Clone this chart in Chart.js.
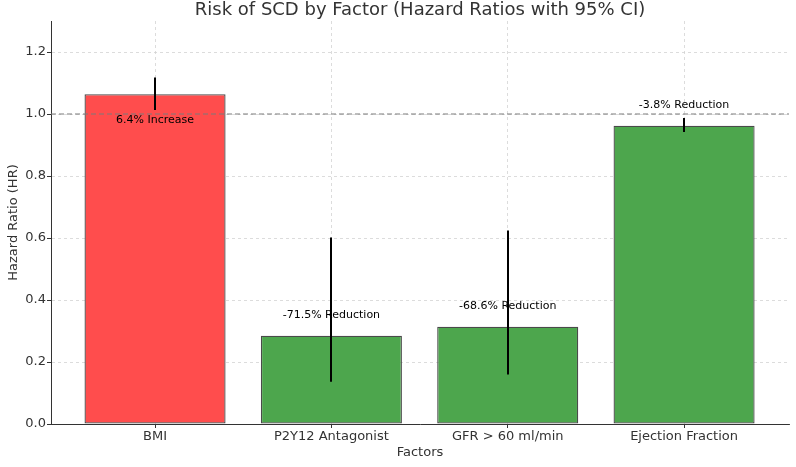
<!DOCTYPE html>
<html lang="en">
<head>
<meta charset="UTF-8" />
<title>Risk of SCD by Factor</title>
<script src="https://cdn.jsdelivr.net/npm/chart.js@4.4.1/dist/chart.umd.min.js"></script>
<style>
  html, body { margin: 0; padding: 0; background: #fff; }
  #wrap { width: 796px; height: 467px; }
</style>
</head>
<body>
<div id="wrap"><canvas id="chart" width="796" height="467"></canvas></div>
<script>
  // values
  const factors = ["BMI", "P2Y12 Antagonist", "GFR > 60 ml/min", "Ejection Fraction"];
  const hazardRatios = [1.064, 0.285, 0.314, 0.962];
  const ciLower = [1.013, 0.136, 0.16, 0.942];
  const ciUpper = [1.118, 0.602, 0.624, 0.987];
  const changeLabels = ["6.4% Increase", "-71.5% Reduction", "-68.6% Reduction", "-3.8% Reduction"];
  const yTicks = [0, 0.2, 0.4, 0.6, 0.8, 1.0, 1.2];
  const referenceHR = 1.0;

  const FONT = "'DejaVu Sans', sans-serif";
  const barColors = hazardRatios.map((v) => (v > referenceHR ? "#ff4d4d" : "#4da64d"));

  // title, reference line, labels and CI whiskers drawn on top of bars
  const extras = {
    id: "extras",
    afterDatasetsDraw(chart) {
      const { ctx, chartArea } = chart;
      const xs = chart.scales.x;
      const ys = chart.scales.y;

      // dashed line at HR = 1
      const yRef = ys.getPixelForValue(referenceHR);
      ctx.save();
      ctx.strokeStyle = "#7a7a7a";
      ctx.lineWidth = 1;
      ctx.setLineDash([5, 3]);
      ctx.beginPath();
      ctx.moveTo(chartArea.left, yRef);
      ctx.lineTo(chartArea.right, yRef);
      ctx.stroke();
      ctx.restore();

      // percent change labels
      ctx.save();
      ctx.font = "11px " + FONT;
      ctx.fillStyle = "#000";
      ctx.textAlign = "center";
      ctx.textBaseline = "bottom";
      hazardRatios.forEach((v, i) => {
        const at = v > referenceHR ? v - 0.1 : v + 0.05;
        ctx.fillText(changeLabels[i], xs.getPixelForValue(i), ys.getPixelForValue(at));
      });
      ctx.restore();

      // 95% CI whiskers
      ctx.save();
      ctx.strokeStyle = "#000";
      ctx.lineWidth = 2;
      hazardRatios.forEach((v, i) => {
        const x = Math.round(xs.getPixelForValue(i));
        ctx.beginPath();
        ctx.moveTo(x, ys.getPixelForValue(ciLower[i]));
        ctx.lineTo(x, ys.getPixelForValue(ciUpper[i]));
        ctx.stroke();
      });
      ctx.restore();

      // title (top partly cut, as in the picture)
      ctx.save();
      ctx.font = "18px " + FONT;
      ctx.fillStyle = "#333";
      ctx.textAlign = "center";
      ctx.textBaseline = "alphabetic";
      ctx.fillText("Risk of SCD by Factor (Hazard Ratios with 95% CI)", (chartArea.left + chartArea.right) / 2, 15);
      ctx.restore();
    },
  };

  new Chart(document.getElementById("chart"), {
    type: "bar",
    data: {
      datasets: [
        {
          data: hazardRatios.map((v, i) => ({ x: i, y: v })),
          backgroundColor: barColors,
          borderColor: "#4a4a4a",
          borderWidth: 1.3,
          borderSkipped: false,
          barPercentage: 0.8,
          categoryPercentage: 1,
        },
      ],
    },
    options: {
      responsive: false,
      animation: false,
      devicePixelRatio: 1,
      layout: { padding: { top: 21, right: 7, left: 0, bottom: 0 } },
      plugins: { legend: { display: false }, tooltip: { enabled: false } },
      scales: {
        x: {
          type: "linear",
          offset: false,
          min: -0.59,
          max: 3.595,
          afterBuildTicks: (s) => {
            s.ticks = factors.map((_, i) => ({ value: i }));
          },
          afterFit: (s) => {
            s.height = 43;
          },
          ticks: {
            callback: (v) => factors[v],
            font: { family: FONT, size: 13 },
            color: "#333",
            padding: 1,
            maxRotation: 0,
            autoSkip: false,
          },
          grid: {
            offset: false,
            color: "#d3d3d3",
            lineWidth: 0.8,
            tickColor: "#333",
            tickLength: 4,
            tickWidth: 1,
            tickBorderDash: [],
          },
          border: { color: "#333", width: 1, dash: [3, 3] },
          title: {
            display: true,
            text: "Factors",
            font: { family: FONT, size: 13 },
            color: "#333",
            padding: { top: 0, bottom: 7 },
          },
        },
        y: {
          min: 0,
          max: 1.3,
          afterBuildTicks: (s) => {
            s.ticks = yTicks.map((v) => ({ value: v }));
          },
          afterFit: (s) => {
            s.width = 51;
          },
          ticks: {
            callback: (v) => v.toFixed(1),
            font: { family: FONT, size: 13 },
            color: "#333",
            padding: 1,
          },
          grid: {
            color: "#d3d3d3",
            lineWidth: 0.8,
            tickColor: "#333",
            tickLength: 4,
            tickWidth: 1,
            tickBorderDash: [],
          },
          border: { color: "#333", width: 1, dash: [3, 3] },
          title: {
            display: true,
            text: "Hazard Ratio (HR)",
            font: { family: FONT, size: 13 },
            color: "#333",
            padding: { top: 6, bottom: 0 },
          },
        },
      },
    },
    plugins: [extras],
  });
</script>
</body>
</html>
